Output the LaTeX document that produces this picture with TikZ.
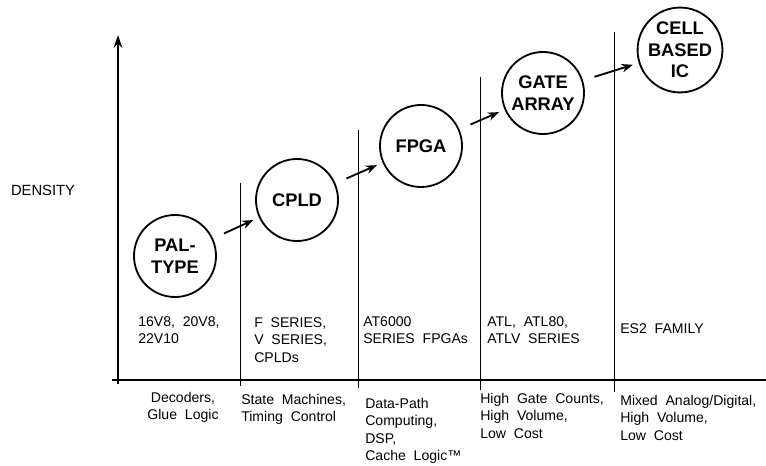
\documentclass[tikz,border=0pt]{standalone}
\usepackage{fontspec}
\setmainfont{Liberation Sans}
\usepackage{tikz}
\usetikzlibrary{arrows.meta, positioning}

\begin{document}
\begin{tikzpicture}[
        x=0.025cm, y=-0.025cm,
        techcircle/.style={
            circle, draw=black, line width=1.3pt,
            minimum size=2.05cm, inner sep=0pt,
            align=center, font=\bfseries\fontsize{13}{15.3}\selectfont
        },
        rangelabel/.style={
            anchor=north west, align=left, inner sep=0pt,
            font=\fontsize{10}{12.6}\selectfont
        },
        uselabel/.style={
            anchor=north west, align=left, inner sep=0pt,
            font=\fontsize{10}{12.4}\selectfont
        },
        axisline/.style={line width=1.4pt},
        divider/.style={line width=0.5pt},
        stepline/.style={-{Stealth[length=8pt,width=6pt]}, line width=1.3pt,
            shorten <=0.3cm, shorten >=0.15cm}
    ]
        \useasboundingbox (0,0) rectangle (766,465);

        % axes
        \coordinate (origin) at (118,380);
        \coordinate (ytop) at (118,35);
        \coordinate (xend) at (766,380);
        \draw[axisline] (112,380) -- (xend);
        \draw[axisline, -{Stealth[length=9pt,width=6pt]}] (118,384) -- (ytop);
        \node[font=\fontsize{10.5}{12}\selectfont] (density) at (43,190) {DENSITY};

        % dividers
        \draw[divider] (240,183) -- (240,386);
        \draw[divider] (358,130) -- (358,388);
        \draw[divider] (480,77) -- (480,390);
        \draw[divider] (614,32) -- (614,392);

        % technologies
        \node[techcircle] (pal) at (175,256) {PAL-\\TYPE};
        \node[techcircle] (cpld) at (297,200) {CPLD};
        \node[techcircle] (fpga) at (421,146) {FPGA};
        \node[techcircle] (gate) at (543,93) {GATE\\ARRAY};
        \node[techcircle] (cell) at (680,50) {CELL\\BASED\\IC};

        \draw[stepline] (pal) -- (cpld);
        \draw[stepline] (cpld) -- (fpga);
        \draw[stepline] (fpga) -- (gate);
        \draw[stepline] (gate) -- (cell);

        % product families
        \node[rangelabel] (palfam) at (138,316) {16V8,\ \ 20V8,\\22V10};
        \node[rangelabel] (cpldfam) at (254,317) {F\ \ SERIES,\\V\ \ SERIES,\\CPLDs};
        \node[rangelabel] (fpgafam) at (363,316) {AT6000\\SERIES\ \ FPGAs};
        \node[rangelabel] (gatefam) at (487,316) {ATL,\ \ ATL80,\\ATLV\ \ SERIES};
        \node[rangelabel] (cellfam) at (620,323) {ES2\ \ FAMILY};

        % applications
        \node[uselabel, anchor=north, align=center] (paluse) at (183,392) {Decoders,\\Glue\ \ Logic};
        \node[uselabel] (cplduse) at (241,394) {State\ \ Machines,\\Timing\ \ Control};
        \node[uselabel] (fpgause) at (365,398) {Data-Path\\Computing,\\DSP,\\Cache\ \ Logic\texttrademark};
        \node[uselabel] (gateuse) at (480,393) {High\ \ Gate\ \ Counts,\\High\ \ Volume,\\Low\ \ Cost};
        \node[uselabel] (celluse) at (620,395) {Mixed\ \ Analog/Digital,\\High\ \ Volume,\\Low\ \ Cost};
    \end{tikzpicture}
\end{document}
